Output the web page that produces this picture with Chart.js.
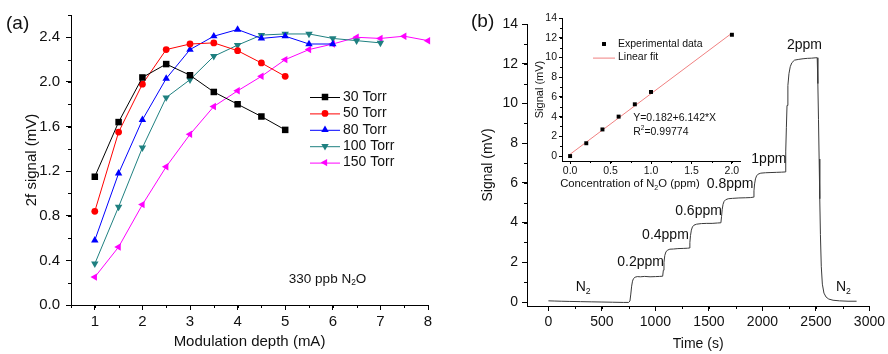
<!DOCTYPE html>
<html lang="en">
<head>
<meta charset="UTF-8">
<title>N2O 2f signal</title>
<script src="https://cdn.jsdelivr.net/npm/chart.js"></script>
<style>
  body { margin: 0; background: #fff; }
  #wrap { position: relative; width: 888px; height: 354px; overflow: hidden; background: #fff; }
  canvas { position: absolute; }
  .tag { position: absolute; font: 19px "Liberation Sans", Arial, sans-serif; color: #111; line-height: 1; }
</style>
</head>
<body>
<div id="wrap">
  <canvas id="chartA" width="445" height="354" style="left:0;top:0"></canvas>
  <canvas id="chartB" width="443" height="354" style="left:445px;top:0"></canvas>
  <canvas id="chartIn" width="230" height="200" style="left:525px;top:0"></canvas>
  <div class="tag" style="left:6px;top:13px">(a)</div>
  <div class="tag" style="left:471px;top:11px">(b)</div>
</div>
<script>
// (a) 2f signal vs modulation depth
const depth = [1, 1.5, 2, 2.5, 3, 3.5, 4, 4.5, 5, 5.5, 6, 6.5, 7, 7.5, 8];
const torr30  = [1.15, 1.64, 2.04, 2.16, 2.06, 1.91, 1.80, 1.69, 1.57];
const torr50  = [0.84, 1.55, 1.98, 2.29, 2.34, 2.35, 2.28, 2.17, 2.05];
const torr80  = [0.58, 1.18, 1.66, 2.03, 2.29, 2.41, 2.47, 2.39, 2.41, 2.34, 2.34];
const torr100 = [0.37, 0.88, 1.41, 1.86, 2.02, 2.23, 2.33, 2.42, 2.43, 2.43, 2.39, 2.37, 2.35];
const torr150 = [0.25, 0.52, 0.90, 1.24, 1.53, 1.78, 1.92, 2.05, 2.20, 2.29, 2.34, 2.40, 2.39, 2.41, 2.37];
const ticksDepth = [1, 2, 3, 4, 5, 6, 7, 8];
const ticks2f = [0, 0.4, 0.8, 1.2, 1.6, 2.0, 2.4];

// (b) signal vs time
const timeS = [0, 60, 120, 200, 300, 400, 500, 600, 700, 750, 762, 770, 778, 786, 795, 810, 830, 860, 900, 950,
  1000, 1040, 1068, 1074, 1080, 1088, 1098, 1112, 1135, 1170, 1210, 1260, 1300, 1316, 1322, 1328, 1336, 1346, 1360, 1385,
  1430, 1480, 1530, 1580, 1612, 1618, 1624, 1632, 1642, 1656, 1680, 1720, 1780, 1840, 1890, 1915, 1921, 1927, 1935, 1945,
  1960, 1985, 2030, 2080, 2130, 2180, 2212, 2218, 2224, 2230, 2238, 2248, 2260, 2275, 2300, 2340, 2380, 2420, 2460, 2500,
  2512, 2518, 2524, 2530, 2536, 2542, 2550, 2560, 2575, 2595, 2620, 2660, 2720, 2800, 2880];
const signalMV = [0.06, 0.05, 0.04, 0.03, 0.02, 0.01, 0.0, -0.01, -0.02, -0.02, 0.05, 0.4, 0.8, 1.05, 1.18, 1.25, 1.28, 1.27, 1.29, 1.27,
  1.28, 1.29, 1.30, 1.6, 2.0, 2.35, 2.52, 2.61, 2.66, 2.67, 2.69, 2.70, 2.71, 2.72, 3.0, 3.35, 3.62, 3.78, 3.87, 3.92,
  3.95, 3.96, 3.96, 3.98, 3.99, 4.3, 4.65, 4.92, 5.07, 5.15, 5.2, 5.22, 5.24, 5.25, 5.26, 5.28, 5.6, 5.95, 6.2, 6.35,
  6.44, 6.49, 6.51, 6.52, 6.53, 6.54, 6.55, 7.6, 8.8, 9.9, 10.9, 11.5, 11.85, 12.05, 12.18, 12.22, 12.25, 12.27, 12.28, 12.3,
  12.3, 11.0, 9.2, 7.2, 5.2, 3.4, 1.8, 0.9, 0.45, 0.25, 0.15, 0.09, 0.06, 0.04, 0.04];
const ticksTime = [0, 500, 1000, 1500, 2000, 2500, 3000];
const ticksSignal = [0, 2, 4, 6, 8, 10, 12, 14];

// inset: calibration
const concPPM = [0, 0.2, 0.4, 0.6, 0.8, 1.0, 2.0];
const calibMV = [0.0, 1.3, 2.7, 4.0, 5.25, 6.5, 12.3];
const fitX = [0, 2];
const fitY = [0.182, 12.466];
const ticksConc = [0, 0.5, 1.0, 1.5, 2.0];
const ticksCalib = [0, 2, 4, 6, 8, 10, 12, 14];

const FAM = '"Liberation Sans", Arial, sans-serif';
Chart.defaults.font.family = FAM;
Chart.defaults.color = '#111';

function pts(xs, ys) { return ys.map((y, i) => ({ x: xs[i], y: y })); }

function drawRich(ctx, parts, x, y, size, align) {
  const segs = parts.map(p => {
    const k = p[1] || '';
    const fs = k ? size * 0.62 : size;
    ctx.font = fs + 'px ' + FAM;
    return { t: p[0], k: k, fs: fs, w: ctx.measureText(p[0]).width };
  });
  const total = segs.reduce((a, s) => a + s.w, 0);
  let cx = align === 'center' ? x - total / 2 : x;
  ctx.textBaseline = 'middle';
  ctx.textAlign = 'left';
  segs.forEach(s => {
    ctx.font = s.fs + 'px ' + FAM;
    const dy = s.k === 'sub' ? size * 0.32 : (s.k === 'sup' ? -size * 0.35 : 0);
    ctx.fillText(s.t, cx, y + dy);
    cx += s.w;
  });
}

function marker(ctx, style, rot, x, y, r) {
  ctx.beginPath();
  if (style === 'circle') {
    ctx.arc(x, y, r, 0, Math.PI * 2);
  } else if (style === 'rect') {
    const s = r * Math.SQRT1_2;
    ctx.rect(x - s, y - s, 2 * s, 2 * s);
  } else {
    let a = (rot || 0) * Math.PI / 180;
    ctx.moveTo(x + Math.sin(a) * r, y - Math.cos(a) * r);
    for (let k = 0; k < 2; k++) {
      a += Math.PI * 2 / 3;
      ctx.lineTo(x + Math.sin(a) * r, y - Math.cos(a) * r);
    }
    ctx.closePath();
  }
  ctx.fill();
}

// short ticks between the labelled ones
const minorTicks = {
  id: 'minorTicks',
  afterDraw(chart, args, opts) {
    const ctx = chart.ctx;
    ctx.save();
    ctx.strokeStyle = '#000';
    ctx.lineWidth = 1;
    ctx.beginPath();
    ['x', 'y'].forEach(id => {
      const s = chart.scales[id];
      const step = opts[id];
      if (!s || !step) return;
      const len = opts.len || 3;
      for (let v = Math.ceil(s.min / step) * step; v <= s.max + 1e-9; v += step) {
        const p = Math.round(s.getPixelForValue(v)) + 0.5;
        if (id === 'x') { ctx.moveTo(p, s.top); ctx.lineTo(p, s.top + len); }
        else { ctx.moveTo(s.right, p); ctx.lineTo(s.right - len, p); }
      }
    });
    ctx.stroke();
    ctx.restore();
  }
};

// text placed at data coordinates
const notes = {
  id: 'notes',
  afterDraw(chart, args, opts) {
    if (!opts.items) return;
    const ctx = chart.ctx;
    ctx.save();
    ctx.fillStyle = '#111';
    opts.items.forEach(it => {
      const px = chart.scales.x.getPixelForValue(it.x);
      const py = chart.scales.y.getPixelForValue(it.y);
      drawRich(ctx, it.parts, px, py, it.size, it.align || 'center');
    });
    ctx.restore();
  }
};

// legend drawn from the datasets
const boxLegend = {
  id: 'boxLegend',
  afterDraw(chart, args, opts) {
    if (!opts.x1) return;
    const ctx = chart.ctx;
    ctx.save();
    chart.data.datasets.forEach((ds, i) => {
      const y = opts.y + i * opts.dy;
      if (ds.showLine !== false) {
        ctx.strokeStyle = ds.borderColor;
        ctx.lineWidth = ds.borderWidth;
        ctx.beginPath();
        ctx.moveTo(opts.x1, y + 0.5);
        ctx.lineTo(opts.x2, y + 0.5);
        ctx.stroke();
      }
      if (ds.pointRadius > 0) {
        ctx.fillStyle = ds.backgroundColor;
        marker(ctx, ds.pointStyle, ds.pointRotation, (opts.x1 + opts.x2) / 2, y, ds.pointRadius);
      }
      ctx.fillStyle = '#111';
      ctx.font = opts.size + 'px ' + FAM;
      ctx.textBaseline = 'middle';
      ctx.textAlign = 'left';
      ctx.fillText(ds.label, opts.tx, y);
    });
    ctx.restore();
  }
};

function axis(min, max, tickVals, size, pad, len, fmt, fit) {
  return {
    type: 'linear', min: min, max: max,
    border: { display: true, color: '#000', width: 1 },
    grid: { display: true, drawOnChartArea: false, drawTicks: true, tickLength: len, color: '#000' },
    ticks: { autoSkip: false, maxRotation: 0, padding: pad, font: { size: size }, color: '#111', callback: fmt },
    afterBuildTicks: s => { s.ticks = tickVals.map(v => ({ value: v })); },
    afterFit: fit
  };
}

function series(label, ys, color, style, rot, r) {
  return {
    label: label, data: pts(depth, ys), borderColor: color, backgroundColor: color,
    borderWidth: 1, pointStyle: style, pointRotation: rot, pointRadius: r,
    pointBorderWidth: 0, tension: 0, clip: false
  };
}

const plugins = [minorTicks, notes, boxLegend];

// ---- panel (a)
const xA = axis(0.5, 8, ticksDepth, 15, 3, 5, v => String(v), s => { s.height = 49; });
xA.title = { display: true, text: 'Modulation depth (mA)', font: { size: 15 }, color: '#111', padding: { top: 0, bottom: 3 } };
const yA = axis(0, 2.6, ticks2f, 15, 6, 5, v => v.toFixed(1), s => { s.width = 71; });
yA.title = { display: true, text: '2f signal (mV)', font: { size: 15 }, color: '#111', padding: { top: 23, bottom: 0 } };

new Chart(document.getElementById('chartA'), {
  type: 'line',
  data: {
    datasets: [
      series('30 Torr', torr30, '#000000', 'rect', 0, 4.6),
      series('50 Torr', torr50, '#ff0000', 'circle', 0, 3.4),
      series('80 Torr', torr80, '#0000ff', 'triangle', 0, 4.3),
      series('100 Torr', torr100, '#1f8080', 'triangle', 180, 4.3),
      series('150 Torr', torr150, '#ff00ff', 'triangle', 270, 4.3)
    ]
  },
  options: {
    responsive: false, animation: false, events: [], devicePixelRatio: 1,
    layout: { padding: { left: 0, right: 17, top: 15, bottom: 0 } },
    scales: { x: xA, y: yA },
    plugins: {
      legend: { display: false }, tooltip: { enabled: false },
      minorTicks: { x: 0.5, y: 0.2, len: 3 },
      boxLegend: { x1: 310, x2: 340, tx: 343, y: 97, dy: 16.4, size: 14 },
      notes: { items: [ { x: 5.89, y: 0.235, size: 13.5, parts: [['330 ppb N'], ['2', 'sub'], ['O']] } ] }
    }
  },
  plugins: plugins
});

// ---- panel (b)
const xB = axis(-200, 3000, ticksTime, 14, 3, 5, v => String(v), s => { s.height = 48; });
xB.title = { display: true, text: 'Time (s)', font: { size: 14 }, color: '#111', padding: { top: 0, bottom: 1 } };
const yB = axis(-0.2, 14, ticksSignal, 14, 4, 5, v => String(v), s => { s.width = 82; });
yB.title = { display: true, text: 'Signal (mV)', font: { size: 14 }, color: '#111', padding: { top: 35, bottom: 0 } };

new Chart(document.getElementById('chartB'), {
  type: 'line',
  data: {
    datasets: [{
      label: 'Signal', data: pts(timeS, signalMV), borderColor: '#3a3a3a', borderWidth: 1,
      pointRadius: 0, tension: 0
    }]
  },
  options: {
    responsive: false, animation: false, events: [], devicePixelRatio: 1,
    layout: { padding: { left: 0, right: 16, top: 24, bottom: 0 } },
    scales: { x: xB, y: yB },
    plugins: {
      legend: { display: false }, tooltip: { enabled: false },
      minorTicks: { x: 250, y: 1, len: 3 },
      notes: { items: [
        { x: 325, y: 0.74, size: 14, parts: [['N'], ['2', 'sub']] },
        { x: 2757, y: 0.74, size: 14, parts: [['N'], ['2', 'sub']] },
        { x: 862, y: 2.0, size: 14, parts: [['0.2ppm']] },
        { x: 1094, y: 3.35, size: 14, parts: [['0.4ppm']] },
        { x: 1403, y: 4.58, size: 14, parts: [['0.6ppm']] },
        { x: 1698, y: 5.96, size: 14, parts: [['0.8ppm']] },
        { x: 2060, y: 7.17, size: 14, parts: [['1ppm']] },
        { x: 2393, y: 12.94, size: 14, parts: [['2ppm']] }
      ] }
    }
  },
  plugins: plugins
});

// ---- inset
const xI = axis(-0.1, 2.1, ticksConc, 10.5, 1, 3, v => v.toFixed(1), s => { s.height = 39; });
const yI = axis(-0.5, 14, ticksCalib, 10.5, 2, 3, v => String(v), s => { s.width = 37; });
yI.title = { display: true, text: 'Signal (mV)', font: { size: 11 }, color: '#111', padding: { top: 8, bottom: 0 } };

new Chart(document.getElementById('chartIn'), {
  type: 'line',
  data: {
    datasets: [
      { label: 'Experimental data', data: pts(concPPM, calibMV), showLine: false, borderColor: '#000',
        backgroundColor: '#000', borderWidth: 0, pointStyle: 'rect', pointRadius: 2.8, pointBorderWidth: 0, clip: false },
      { label: 'Linear fit', data: pts(fitX, fitY), borderColor: '#f08080', backgroundColor: '#f08080',
        borderWidth: 1, pointRadius: 0, tension: 0 }
    ]
  },
  options: {
    responsive: false, animation: false, events: [], devicePixelRatio: 1,
    layout: { padding: { left: 0, right: 15, top: 18, bottom: 0 } },
    scales: { x: xI, y: yI },
    plugins: {
      legend: { display: false }, tooltip: { enabled: false },
      minorTicks: { x: 0.25, y: 1, len: 2 },
      boxLegend: { x1: 68, x2: 90, tx: 93, y: 44, dy: 13.6, size: 10.5 },
      notes: { items: [
        { x: 0.739, y: -2.85, size: 11.3, parts: [['Concentration of N'], ['2', 'sub'], ['O (ppm)']] },
        { x: 0.78, y: 3.87, size: 10.5, align: 'left', parts: [['Y=0.182+6.142*X']] },
        { x: 0.78, y: 2.41, size: 10.5, align: 'left', parts: [['R'], ['2', 'sup'], ['=0.99774']] }
      ] }
    }
  },
  plugins: plugins
});
</script>
</body>
</html>
